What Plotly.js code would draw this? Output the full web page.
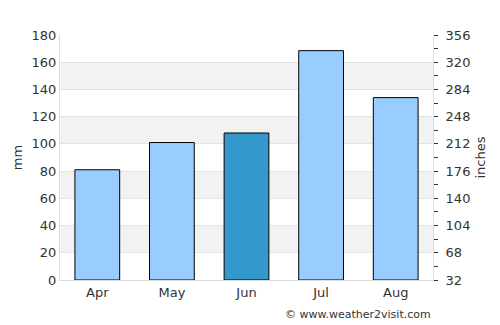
<!DOCTYPE html>
<html>
<head>
<meta charset="utf-8">
<script src="https://cdn.plot.ly/plotly-3.0.1.min.js"></script>
<style>html,body{margin:0;padding:0;background:#fff;}#chart{width:500px;height:325px;}</style>
</head>
<body>
<div id="chart"></div>
<script>
const months = ["Apr", "May", "Jun", "Jul", "Aug"];
const rainfallMm = [81, 101, 108, 168.5, 134];
const barColors = ["#99ccff", "#99ccff", "#3399cc", "#99ccff", "#99ccff"];
const leftTicks = [0, 20, 40, 60, 80, 100, 120, 140, 160, 180];
const rightTicks = [32, 68, 104, 140, 176, 212, 248, 284, 320, 356];
const bandStarts = [20, 60, 100, 140];

const font = {family: "DejaVu Sans, sans-serif", size: 13, color: "#333"};

const traces = [
  {
    type: "bar", x: months, y: rainfallMm,
    marker: {color: barColors, line: {color: "#000", width: 1}},
    width: 0.6, hoverinfo: "none"
  },
  {
    type: "scatter", mode: "markers", x: months,
    y: rainfallMm.map(v => v * 1.8 + 32),
    marker: {opacity: 0}, yaxis: "y2", hoverinfo: "none", showlegend: false
  }
];

const shapes = bandStarts.map(s => ({
  type: "rect", xref: "paper", yref: "y", x0: 0, x1: 1, y0: s, y1: s + 20,
  fillcolor: "#f2f2f2", line: {width: 0}, layer: "below"
}));

const layout = {
  width: 500, height: 325,
  margin: {l: 60, r: 67, t: 35, b: 45},
  paper_bgcolor: "#fff", plot_bgcolor: "#fff",
  showlegend: false, font: font,
  bargap: 0.4,
  shapes: shapes,
  xaxis: {
    type: "category", showgrid: false, ticks: "", showline: true,
    linecolor: "#dddddd", linewidth: 1, tickfont: font, zeroline: false
  },
  yaxis: {
    range: [0, 180], tickvals: leftTicks, showgrid: true, gridcolor: "#e3e3e3",
    zeroline: false, showline: true, linecolor: "#dddddd", ticks: "",
    tickfont: font, title: {text: "mm", font: font, standoff: 6}
  },
  yaxis2: {
    overlaying: "y", side: "right", range: [32, 356], tickvals: rightTicks,
    showgrid: false, zeroline: false, showline: true, linecolor: "#dddddd",
    ticks: "outside", ticklen: 4, tickcolor: "#333", ticklabelstandoff: 5,
    minor: {dtick: 18, tick0: 32, ticks: "outside", ticklen: 4, tickcolor: "#333", showgrid: false},
    tickfont: font, title: {text: "inches", font: font, standoff: 6}
  },
  annotations: [{
    text: "© www.weather2visit.com", xref: "paper", yref: "paper",
    x: 1, y: 0, xanchor: "right", yanchor: "top", yshift: -26, showarrow: false,
    font: {family: "DejaVu Sans, sans-serif", size: 11, color: "#333"}
  }]
};

Plotly.newPlot("chart", traces, layout, {staticPlot: true, displayModeBar: false});
</script>
</body>
</html>
